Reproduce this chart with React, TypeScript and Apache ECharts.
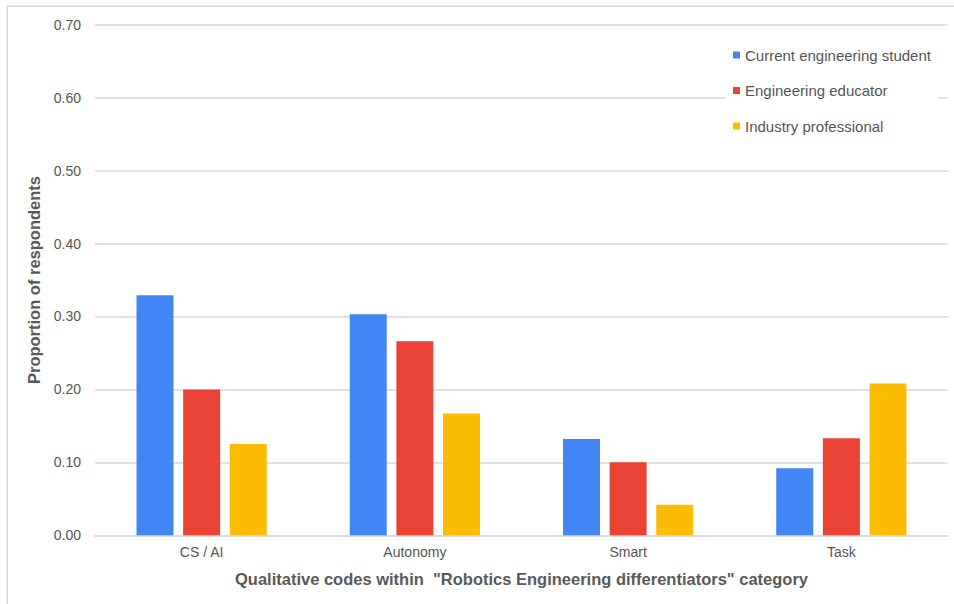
import React, { useEffect, useRef } from "react";
import * as echarts from "echarts";

const categories = ["CS / AI", "Autonomy", "Smart", "Task"];
const seriesNames = ["Current engineering student", "Engineering educator", "Industry professional"];
const studentValues = [0.329, 0.303, 0.132, 0.092];
const educatorValues = [0.2, 0.266, 0.1, 0.133];
const industryValues = [0.125, 0.167, 0.042, 0.208];
const colors = ["#4285F4", "#EA4335", "#FBBC04"];

export default function App() {
  const ref = useRef<HTMLDivElement>(null);
  useEffect(() => {
    if (!ref.current) return;
    const chart = echarts.init(ref.current, null, { renderer: "svg" });
    const font = "'Liberation Sans', Arial, sans-serif";
    const data = [studentValues, educatorValues, industryValues];
    chart.setOption({
      animation: false,
      backgroundColor: "#ffffff",
      textStyle: { fontFamily: font },
      graphic: [
        {
          type: "rect",
          shape: { x: 7.25, y: 6.25, width: 1000, height: 1000 },
          style: { fill: "none", stroke: "#d9d9d9", lineWidth: 1.5 },
          z: 0,
        },
      ],
      grid: { left: 95, right: 6, top: 24.7, bottom: 68.7, containLabel: false },
      legend: {
        orient: "vertical",
        left: 725,
        top: 37,
        padding: [10, 7, 10, 8],
        backgroundColor: "#ffffff",
        itemWidth: 7,
        itemHeight: 7,
        itemGap: 19.5,
        icon: "rect",
        data: seriesNames,
        z: 10,
        textStyle: { fontFamily: font, fontSize: 15, color: "#555555", lineHeight: 16, padding: [0, 0, 0, 0] },
      },
      xAxis: {
        type: "category",
        data: categories,
        name: 'Qualitative codes within  "Robotics Engineering differentiators" category',
        nameLocation: "middle",
        nameGap: 35,
        nameTextStyle: { fontFamily: font, fontSize: 16.5, fontWeight: "bold", color: "#595959" },
        axisLine: { show: true, lineStyle: { color: "#d9d9d9", width: 1.5 } },
        axisTick: { show: false },
        axisLabel: { fontFamily: font, fontSize: 14, color: "#555555", margin: 10 },
      },
      yAxis: {
        type: "value",
        min: 0,
        max: 0.7,
        interval: 0.1,
        name: "Proportion of respondents",
        nameLocation: "middle",
        nameGap: 50,
        nameTextStyle: { fontFamily: font, fontSize: 16.5, fontWeight: "bold", color: "#595959" },
        axisLine: { show: false },
        axisTick: { show: false },
        axisLabel: {
          fontFamily: font,
          fontSize: 14,
          color: "#555555",
          margin: 14,
          formatter: (v: number) => v.toFixed(2),
        },
        splitLine: { lineStyle: { color: "#d9d9d9", width: 1.5 } },
      },
      series: seriesNames.map((name, i) => ({
        name,
        type: "bar",
        data: data[i],
        barWidth: 37,
        barGap: "26%",
        itemStyle: { color: colors[i] },
      })),
    });
    return () => chart.dispose();
  }, []);
  return <div ref={ref} style={{ position: "fixed", left: 0, top: 0, width: 954, height: 604 }} />;
}
